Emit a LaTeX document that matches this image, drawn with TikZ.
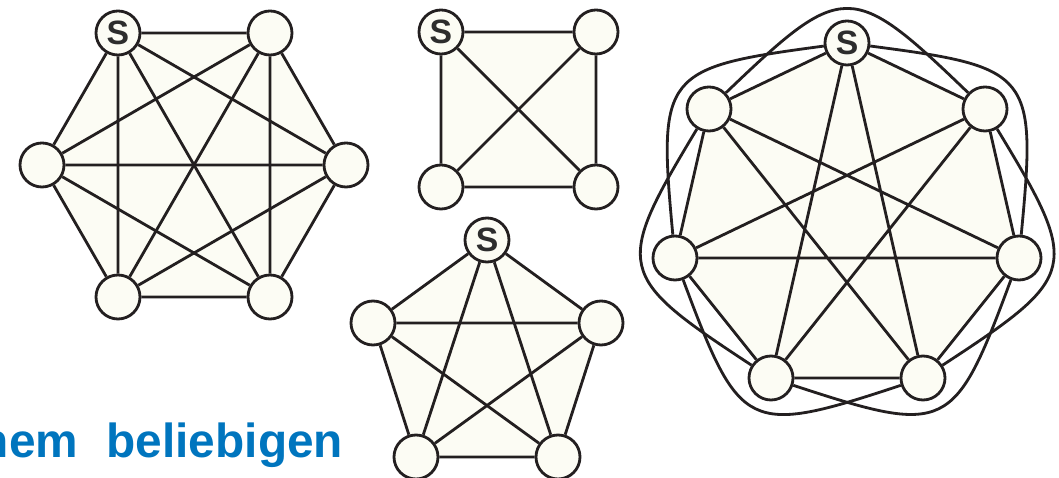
\documentclass[tikz,border=0pt]{standalone}
\usepackage{fontspec}
\usepackage{xcolor}
\usepackage{tikz}
\usetikzlibrary{backgrounds}
\newfontfamily\graphfont{Liberation Sans}
\definecolor{GraphLine}{RGB}{35,31,32}
\definecolor{GraphFill}{RGB}{252,252,244}
\definecolor{GraphLetter}{RGB}{45,45,45}
\definecolor{CaptionBlue}{RGB}{0,117,190}

\begin{document}
\begin{tikzpicture}[x=0.025cm, y=0.025cm,
  vtx/.style={draw=GraphLine, circle, fill=GraphFill, minimum size=1.1cm,
              inner sep=0pt, line width=2pt},
  srcvtx/.style={vtx, font=\graphfont\bfseries\fontsize{24}{24}\selectfont, text=GraphLetter},
  link/.style={draw=GraphLine, line width=2pt},
  graphface/.style={fill=GraphFill},
  captxt/.style={font=\graphfont\bfseries\fontsize{34}{40}\selectfont, text=CaptionBlue},
]
\useasboundingbox (0,0) rectangle (1059,478);
\clip (0,0) rectangle (1059,478);
%% K6
\node[srcvtx] (k6a) at (118,445) {S};
\node[vtx] (k6b) at (270,445) {};
\node[vtx] (k6c) at (42,313) {};
\node[vtx] (k6d) at (346,313) {};
\node[vtx] (k6e) at (118,181) {};
\node[vtx] (k6f) at (270,181) {};
%% K4
\node[srcvtx] (k4a) at (441,446) {S};
\node[vtx] (k4b) at (596,446) {};
\node[vtx] (k4c) at (441,291) {};
\node[vtx] (k4d) at (596,291) {};
%% K5
\node[srcvtx] (k5a) at (487,238) {S};
\node[vtx] (k5b) at (373,155) {};
\node[vtx] (k5c) at (601,155) {};
\node[vtx] (k5d) at (416,21) {};
\node[vtx] (k5e) at (558,21) {};
%% K7
\node[srcvtx] (k7a) at (847,435) {S};
\node[vtx] (k7b) at (985,369) {};
\node[vtx] (k7c) at (1019,220) {};
\node[vtx] (k7d) at (923,100) {};
\node[vtx] (k7e) at (771,100) {};
\node[vtx] (k7f) at (675,220) {};
\node[vtx] (k7g) at (709,369) {};
%% faces
\begin{scope}[on background layer]
\fill[graphface] (k6a.center) -- (k6b.center) -- (k6d.center) -- (k6f.center) -- (k6e.center) -- (k6c.center) -- cycle;
\fill[graphface] (k4a.center) -- (k4b.center) -- (k4d.center) -- (k4c.center) -- cycle;
\fill[graphface] (k5a.center) -- (k5c.center) -- (k5e.center) -- (k5d.center) -- (k5b.center) -- cycle;
\fill[graphface] (k7a.center) -- (k7b.center) -- (k7c.center) -- (k7d.center) -- (k7e.center) -- (k7f.center) -- (k7g.center) -- cycle;
\end{scope}
%% K6 edges
\draw[link] (k6a) -- (k6b) (k6a) -- (k6c) (k6a) -- (k6d) (k6a) -- (k6e) (k6a) -- (k6f);
\draw[link] (k6b) -- (k6c) (k6b) -- (k6d) (k6b) -- (k6e) (k6b) -- (k6f);
\draw[link] (k6c) -- (k6d) (k6c) -- (k6e) (k6c) -- (k6f);
\draw[link] (k6d) -- (k6e) (k6d) -- (k6f) (k6e) -- (k6f);
%% K4 edges
\draw[link] (k4a) -- (k4b) (k4a) -- (k4c) (k4a) -- (k4d);
\draw[link] (k4b) -- (k4c) (k4b) -- (k4d) (k4c) -- (k4d);
%% K5 edges
\draw[link] (k5a) -- (k5b) (k5a) -- (k5c) (k5a) -- (k5d) (k5a) -- (k5e);
\draw[link] (k5b) -- (k5c) (k5b) -- (k5d) (k5b) -- (k5e);
\draw[link] (k5c) -- (k5d) (k5c) -- (k5e) (k5d) -- (k5e);
%% K7 sides and long chords
\draw[link] (k7a) -- (k7b) (k7b) -- (k7c) (k7c) -- (k7d) (k7d) -- (k7e)
            (k7e) -- (k7f) (k7f) -- (k7g) (k7g) -- (k7a);
\draw[link] (k7a) -- (k7d) (k7b) -- (k7e) (k7c) -- (k7f) (k7d) -- (k7g)
            (k7e) -- (k7a) (k7f) -- (k7b) (k7g) -- (k7c);
%% K7 outer arcs
\draw[link] (k7a) to[out=-7.5, in=84.6, looseness=1.72] (k7c);
\draw[link] (k7b) to[out=-58.9, in=33.2, looseness=1.72] (k7d);
\draw[link] (k7c) to[out=-110.4, in=-18.2, looseness=1.72] (k7e);
\draw[link] (k7d) to[out=-161.8, in=-69.6, looseness=1.72] (k7f);
\draw[link] (k7e) to[out=146.8, in=-121.1, looseness=1.72] (k7g);
\draw[link] (k7f) to[out=95.4, in=-172.5, looseness=1.72] (k7a);
\draw[link] (k7g) to[out=43.9, in=136.1, looseness=1.72] (k7b);
%% caption
\node[captxt, anchor=base east] (cap) at (348,20) {nem\hspace{0.375cm} beliebigen};
\end{tikzpicture}
\end{document}
